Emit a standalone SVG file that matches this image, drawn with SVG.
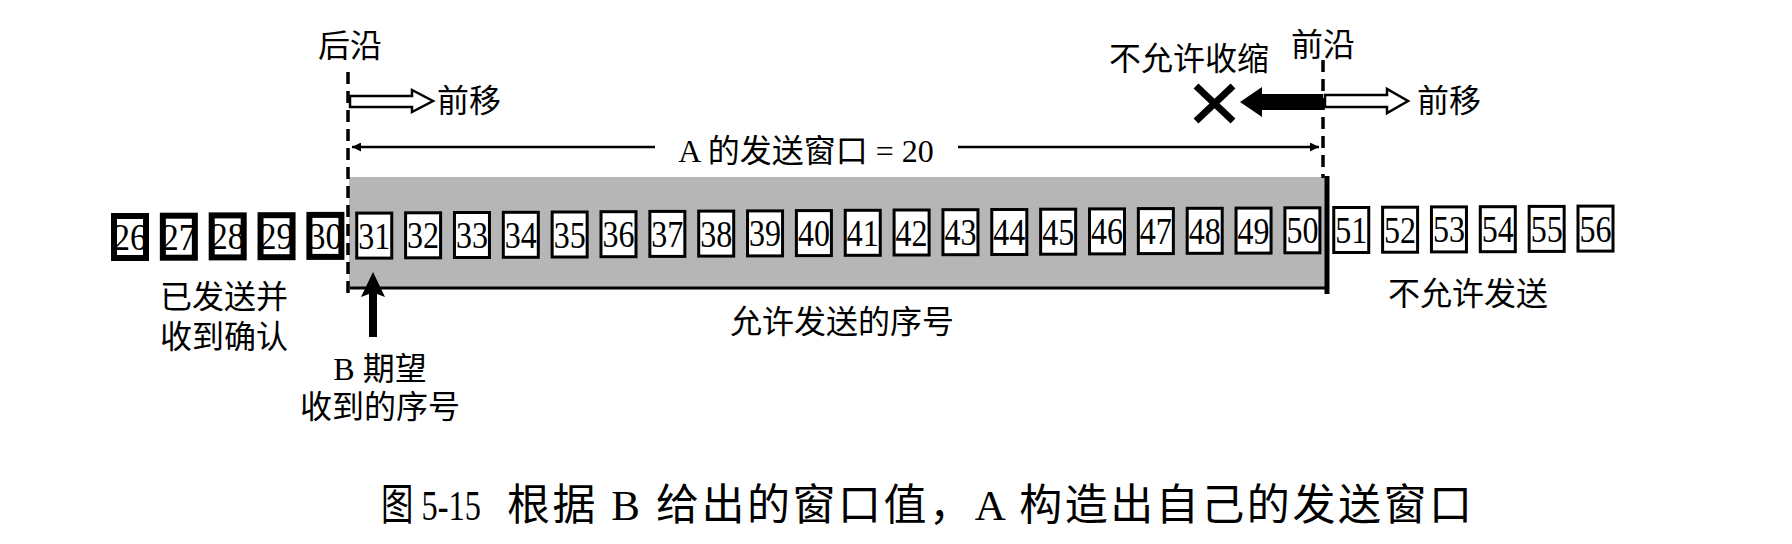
<svg xmlns="http://www.w3.org/2000/svg" width="1792" height="544" viewBox="0 0 1792 544">
<style>
.bk{fill:#fff;stroke:#000;stroke-width:6}
.bt{fill:#fff;stroke:#000;stroke-width:3}
.num{font-family:"Liberation Serif",serif;font-size:37px;text-anchor:middle;fill:#000}
.cn{font-family:"Liberation Serif","Noto Sans CJK SC",sans-serif;font-size:32px;fill:#000}
.mid{text-anchor:middle}
.dash{stroke:#000;stroke-width:3.5;stroke-dasharray:12 7;fill:none}
.hollow{fill:#fff;stroke:#000;stroke-width:2.5;stroke-linejoin:miter}
.cap{font-family:"Liberation Serif","Noto Sans CJK SC",serif;font-size:43px;fill:#000}
</style>
<defs>
<marker id="ah" viewBox="0 0 10 10" refX="10" refY="5" markerWidth="13" markerHeight="9" markerUnits="userSpaceOnUse" orient="auto-start-reverse"><path d="M0,0 L10,5 L0,10 z" fill="#000"/></marker>
</defs>
<rect width="1792" height="544" fill="#fff"/>

<g id="window-area">
<rect x="349" y="177" width="978" height="111" fill="#b6b6b6"/>
<line x1="350" y1="288" x2="1328" y2="288" stroke="#000" stroke-width="3"/>
<line x1="1327" y1="176" x2="1327" y2="294" stroke="#000" stroke-width="5"/>
</g>

<g id="seq-26" transform="translate(111,213)"><rect class="bk" x="3" y="3" width="32" height="42"/><text class="num" x="19" y="37" textLength="34" lengthAdjust="spacingAndGlyphs">26</text></g>
<g id="seq-27" transform="translate(159.85,212.7)"><rect class="bk" x="3" y="3" width="32" height="42"/><text class="num" x="19" y="37" textLength="34" lengthAdjust="spacingAndGlyphs">27</text></g>
<g id="seq-28" transform="translate(208.7,212.4)"><rect class="bk" x="3" y="3" width="32" height="42"/><text class="num" x="19" y="37" textLength="34" lengthAdjust="spacingAndGlyphs">28</text></g>
<g id="seq-29" transform="translate(257.55,212.2)"><rect class="bk" x="3" y="3" width="32" height="42"/><text class="num" x="19" y="37" textLength="34" lengthAdjust="spacingAndGlyphs">29</text></g>
<g id="seq-30" transform="translate(306.4,211.9)"><rect class="bk" x="3" y="3" width="32" height="42"/><text class="num" x="19" y="37" textLength="34" lengthAdjust="spacingAndGlyphs">30</text></g>
<g id="seq-31" transform="translate(355.25,211.6)"><rect class="bt" x="1.5" y="1.5" width="35" height="45"/><text class="num" x="19" y="37" textLength="32" lengthAdjust="spacingAndGlyphs">31</text></g>
<g id="seq-32" transform="translate(404.1,211.3)"><rect class="bt" x="1.5" y="1.5" width="35" height="45"/><text class="num" x="19" y="37" textLength="32" lengthAdjust="spacingAndGlyphs">32</text></g>
<g id="seq-33" transform="translate(452.95,211)"><rect class="bt" x="1.5" y="1.5" width="35" height="45"/><text class="num" x="19" y="37" textLength="32" lengthAdjust="spacingAndGlyphs">33</text></g>
<g id="seq-34" transform="translate(501.8,210.8)"><rect class="bt" x="1.5" y="1.5" width="35" height="45"/><text class="num" x="19" y="37" textLength="32" lengthAdjust="spacingAndGlyphs">34</text></g>
<g id="seq-35" transform="translate(550.65,210.5)"><rect class="bt" x="1.5" y="1.5" width="35" height="45"/><text class="num" x="19" y="37" textLength="32" lengthAdjust="spacingAndGlyphs">35</text></g>
<g id="seq-36" transform="translate(599.5,210.2)"><rect class="bt" x="1.5" y="1.5" width="35" height="45"/><text class="num" x="19" y="37" textLength="32" lengthAdjust="spacingAndGlyphs">36</text></g>
<g id="seq-37" transform="translate(648.35,209.9)"><rect class="bt" x="1.5" y="1.5" width="35" height="45"/><text class="num" x="19" y="37" textLength="32" lengthAdjust="spacingAndGlyphs">37</text></g>
<g id="seq-38" transform="translate(697.2,209.6)"><rect class="bt" x="1.5" y="1.5" width="35" height="45"/><text class="num" x="19" y="37" textLength="32" lengthAdjust="spacingAndGlyphs">38</text></g>
<g id="seq-39" transform="translate(746.05,209.4)"><rect class="bt" x="1.5" y="1.5" width="35" height="45"/><text class="num" x="19" y="37" textLength="32" lengthAdjust="spacingAndGlyphs">39</text></g>
<g id="seq-40" transform="translate(794.9,209.1)"><rect class="bt" x="1.5" y="1.5" width="35" height="45"/><text class="num" x="19" y="37" textLength="32" lengthAdjust="spacingAndGlyphs">40</text></g>
<g id="seq-41" transform="translate(843.75,208.8)"><rect class="bt" x="1.5" y="1.5" width="35" height="45"/><text class="num" x="19" y="37" textLength="32" lengthAdjust="spacingAndGlyphs">41</text></g>
<g id="seq-42" transform="translate(892.6,208.5)"><rect class="bt" x="1.5" y="1.5" width="35" height="45"/><text class="num" x="19" y="37" textLength="32" lengthAdjust="spacingAndGlyphs">42</text></g>
<g id="seq-43" transform="translate(941.45,208.2)"><rect class="bt" x="1.5" y="1.5" width="35" height="45"/><text class="num" x="19" y="37" textLength="32" lengthAdjust="spacingAndGlyphs">43</text></g>
<g id="seq-44" transform="translate(990.3,208)"><rect class="bt" x="1.5" y="1.5" width="35" height="45"/><text class="num" x="19" y="37" textLength="32" lengthAdjust="spacingAndGlyphs">44</text></g>
<g id="seq-45" transform="translate(1039.15,207.7)"><rect class="bt" x="1.5" y="1.5" width="35" height="45"/><text class="num" x="19" y="37" textLength="32" lengthAdjust="spacingAndGlyphs">45</text></g>
<g id="seq-46" transform="translate(1088,207.4)"><rect class="bt" x="1.5" y="1.5" width="35" height="45"/><text class="num" x="19" y="37" textLength="32" lengthAdjust="spacingAndGlyphs">46</text></g>
<g id="seq-47" transform="translate(1136.85,207.1)"><rect class="bt" x="1.5" y="1.5" width="35" height="45"/><text class="num" x="19" y="37" textLength="32" lengthAdjust="spacingAndGlyphs">47</text></g>
<g id="seq-48" transform="translate(1185.7,206.8)"><rect class="bt" x="1.5" y="1.5" width="35" height="45"/><text class="num" x="19" y="37" textLength="32" lengthAdjust="spacingAndGlyphs">48</text></g>
<g id="seq-49" transform="translate(1234.55,206.6)"><rect class="bt" x="1.5" y="1.5" width="35" height="45"/><text class="num" x="19" y="37" textLength="32" lengthAdjust="spacingAndGlyphs">49</text></g>
<g id="seq-50" transform="translate(1283.4,206.3)"><rect class="bt" x="1.5" y="1.5" width="35" height="45"/><text class="num" x="19" y="37" textLength="32" lengthAdjust="spacingAndGlyphs">50</text></g>
<g id="seq-51" transform="translate(1332.25,206)"><rect class="bt" x="1.5" y="1.5" width="35" height="45"/><text class="num" x="19" y="37" textLength="32" lengthAdjust="spacingAndGlyphs">51</text></g>
<g id="seq-52" transform="translate(1381.1,205.7)"><rect class="bt" x="1.5" y="1.5" width="35" height="45"/><text class="num" x="19" y="37" textLength="32" lengthAdjust="spacingAndGlyphs">52</text></g>
<g id="seq-53" transform="translate(1429.95,205.4)"><rect class="bt" x="1.5" y="1.5" width="35" height="45"/><text class="num" x="19" y="37" textLength="32" lengthAdjust="spacingAndGlyphs">53</text></g>
<g id="seq-54" transform="translate(1478.8,205.2)"><rect class="bt" x="1.5" y="1.5" width="35" height="45"/><text class="num" x="19" y="37" textLength="32" lengthAdjust="spacingAndGlyphs">54</text></g>
<g id="seq-55" transform="translate(1527.65,204.9)"><rect class="bt" x="1.5" y="1.5" width="35" height="45"/><text class="num" x="19" y="37" textLength="32" lengthAdjust="spacingAndGlyphs">55</text></g>
<g id="seq-56" transform="translate(1576.5,204.6)"><rect class="bt" x="1.5" y="1.5" width="35" height="45"/><text class="num" x="19" y="37" textLength="32" lengthAdjust="spacingAndGlyphs">56</text></g>

<g id="connectors">
<line class="dash" x1="348" y1="72" x2="348" y2="298"/>
<line class="dash" x1="1323" y1="60" x2="1323" y2="178"/>
<line x1="352" y1="147" x2="655" y2="147" stroke="#000" stroke-width="2.5" marker-start="url(#ah)"/>
<line x1="958" y1="147" x2="1319" y2="147" stroke="#000" stroke-width="2.5" marker-end="url(#ah)"/>
<polygon class="hollow" points="350,96 412,96 412,90 433,101 412,112 412,107 350,107"/>
<polygon class="hollow" points="1325,95 1387,95 1387,89 1408,101 1387,113 1387,107 1325,107"/>
<polygon fill="#000" points="1323,94 1262,94 1262,87 1240,102 1262,117 1262,110 1323,110"/>
<polygon fill="#000" points="373,272 385,297 377,294 377,337 369,337 369,294 361,297"/>
</g>

<g id="cross">
<line x1="1196" y1="86" x2="1233" y2="121" stroke="#000" stroke-width="7"/>
<line x1="1233" y1="86" x2="1196" y2="121" stroke="#000" stroke-width="7"/>
</g>

<g id="label-trailing"><text class="cn mid" x="350" y="57">后沿</text></g>
<g id="label-leading"><text class="cn mid" x="1323" y="56">前沿</text></g>
<g id="label-move-left"><text class="cn" x="437" y="112">前移</text></g>
<g id="label-move-right"><text class="cn" x="1417" y="112">前移</text></g>
<g id="label-noshrink"><text class="cn mid" x="1189" y="70">不允许收缩</text></g>
<g id="label-window"><text class="cn mid" x="806" y="162" font-size="34">A 的发送窗口 = 20</text></g>
<g id="label-acked"><text class="cn mid" x="224" y="308">已发送并</text><text class="cn mid" x="224" y="348">收到确认</text></g>
<g id="label-expected"><text class="cn mid" x="380" y="380">B 期望</text><text class="cn mid" x="380" y="418">收到的序号</text></g>
<g id="label-allowed"><text class="cn mid" x="842" y="333">允许发送的序号</text></g>
<g id="label-notallowed"><text class="cn mid" x="1468" y="305">不允许发送</text></g>

<g id="caption">
<text class="cap" x="381" y="520" font-size="40" textLength="100" lengthAdjust="spacingAndGlyphs">图 5-15</text>
<text class="cap" x="507" y="520" textLength="965" lengthAdjust="spacing">根据 B 给出的窗口值，A 构造出自己的发送窗口</text>
</g>
</svg>
